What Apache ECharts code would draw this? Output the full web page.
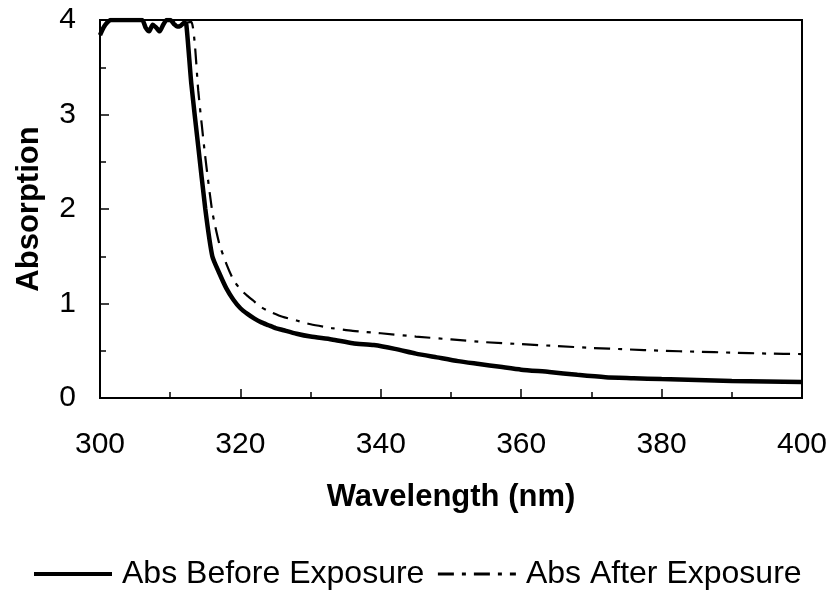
<!DOCTYPE html>
<html>
<head>
<meta charset="utf-8">
<script src="https://cdn.jsdelivr.net/npm/echarts@6/dist/echarts.min.js"></script>
<style>
  html, body { margin: 0; padding: 0; background: #fff; }
  #chart { width: 833px; height: 595px; }
</style>
</head>
<body>
<div id="chart"></div>
<script>
// wavelength (nm) / absorption
var wlBefore = [300, 300.5, 301, 301.5, 302, 304, 306, 306.5, 307, 307.5, 308, 308.5, 309, 309.5, 310, 310.5, 311, 311.5, 312, 312.3,
  313, 314, 315, 316, 317, 318, 319, 320, 321, 322, 323, 324, 325, 326, 328, 330, 333, 336, 339, 342, 345, 348, 351, 354, 357,
  360, 364, 368, 372, 376, 380, 385, 390, 395, 400]
var absBefore = [3.84, 3.92, 3.97, 4.0, 4.0, 4.0, 4.0, 3.92, 3.88, 3.95, 3.92, 3.88, 3.95, 4.0, 4.0, 3.96, 3.93, 3.94, 3.97, 3.95,
  3.33, 2.66, 2.0, 1.5, 1.32, 1.16, 1.04, 0.95, 0.89, 0.84, 0.8, 0.77, 0.74, 0.72, 0.68, 0.65, 0.62, 0.58, 0.56, 0.52, 0.47, 0.43, 0.39, 0.36, 0.33,
  0.3, 0.275, 0.245, 0.22, 0.21, 0.2, 0.19, 0.18, 0.175, 0.17]

var wlAfter = [300, 300.5, 301, 301.5, 302, 306, 306.5, 307, 307.5, 308, 308.5, 309, 309.5, 310, 311, 312, 313, 313.5, 314, 315,
  316, 317, 318, 319, 320, 321, 322, 323, 324, 326, 328, 330, 333, 336, 340, 345, 350, 355, 360, 365, 370, 375, 380, 385, 390, 395, 400]
var absAfter = [3.85, 3.93, 3.98, 4.0, 4.0, 4.0, 3.93, 3.89, 3.95, 3.93, 3.89, 3.95, 4.0, 4.0, 3.96, 3.97, 3.98, 3.75, 3.25, 2.55,
  1.97, 1.63, 1.42, 1.25, 1.15, 1.08, 1.02, 0.96, 0.92, 0.86, 0.82, 0.78, 0.74, 0.71, 0.685, 0.65, 0.62, 0.59, 0.57, 0.55, 0.53, 0.515, 0.5, 0.49, 0.48, 0.47, 0.465]

var seriesNames = ['Abs Before Exposure', 'Abs After Exposure']

function zip(xs, ys) {
  var out = []
  for (var i = 0; i < xs.length; i++) out.push([xs[i], ys[i]])
  return out
}

var font = 'Liberation Sans, Arial, sans-serif'
var dashDot = [16, 8, 4, 8]
var myChart = echarts.init(document.getElementById('chart'))

var option = {
  animation: false,
  backgroundColor: '#fff',
  grid: {
    left: 100, right: 31, top: 20, bottom: 197,
    show: true, borderColor: '#000', borderWidth: 2
  },
  legend: {
    left: 32, top: 558, padding: 0,
    itemWidth: 78, itemHeight: 20, itemGap: 12,
    itemStyle: { opacity: 0 },
    textStyle: { fontFamily: font, fontSize: 32, color: '#000', padding: [0, 0, 0, 5] },
    data: [
      { name: seriesNames[0], lineStyle: { width: 4, type: 'solid' } },
      { name: seriesNames[1], lineStyle: { width: 3, type: dashDot } }
    ]
  },
  xAxis: {
    type: 'value', min: 300, max: 400, interval: 20,
    name: 'Wavelength (nm)', nameLocation: 'middle', nameGap: 84,
    nameTextStyle: { fontFamily: font, fontSize: 31, fontWeight: 'bold', color: '#000' },
    axisLine: { lineStyle: { color: '#000', width: 2 } },
    axisTick: { inside: true, length: 9, lineStyle: { color: '#000', width: 1.5 } },
    minorTick: { show: true, splitNumber: 2, length: 6, lineStyle: { color: '#000', width: 1.5 } },
    axisLabel: { margin: 32, fontFamily: font, fontSize: 30, color: '#000' },
    splitLine: { show: false }
  },
  yAxis: {
    type: 'value', min: 0, max: 4, interval: 1,
    name: 'Absorption', nameLocation: 'middle', nameGap: 55,
    nameTextStyle: { fontFamily: font, fontSize: 31, fontWeight: 'bold', color: '#000' },
    axisLine: { lineStyle: { color: '#000', width: 2 } },
    axisTick: { inside: true, length: 9, lineStyle: { color: '#000', width: 1.5 } },
    minorTick: { show: true, splitNumber: 2, length: 6, lineStyle: { color: '#000', width: 1.5 } },
    axisLabel: { margin: 24, fontFamily: font, fontSize: 30, color: '#000' },
    splitLine: { show: false }
  },
  series: [{
    name: seriesNames[0],
    type: 'line',
    symbol: 'none',
    smooth: 0.2,
    z: 3,
    clip: true,
    lineStyle: { color: '#000', width: 4.5 },
    itemStyle: { color: '#000' },
    data: zip(wlBefore, absBefore)
  }, {
    name: seriesNames[1],
    type: 'line',
    symbol: 'none',
    smooth: 0.2,
    z: 2,
    clip: true,
    lineStyle: { color: '#000', width: 2.2, type: dashDot },
    itemStyle: { color: '#000' },
    data: zip(wlAfter, absAfter)
  }]
}
myChart.setOption(option)
</script>
</body>
</html>
